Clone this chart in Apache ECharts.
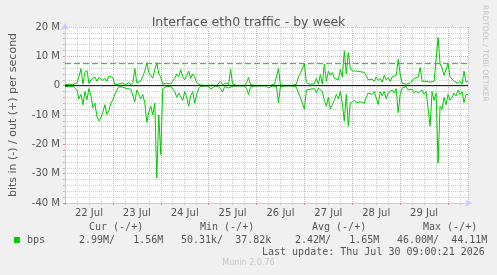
<!DOCTYPE html>
<html>
<head>
<meta charset="utf-8">
<title>Interface eth0 traffic - by week</title>
<script src="https://cdn.jsdelivr.net/npm/echarts@6/dist/echarts.min.js"></script>
<style>
  html, body { margin: 0; padding: 0; background: #f0f0f0; }
  #main { width: 497px; height: 275px; }
</style>
</head>
<body>
<div id="main"></div>
<script>
// hours since 22 Jul 00:00, one sample per hour (Mbit/s)
var outMbps = [
  0.3, 0.2, 0.5, 0.2, 0.3, 0.5, 1.0, 3.0, 5.8, 0.5, 4.5, 5.2, 0.8, 2.0, 2.5, 3.0, 1.5, 2.8, 3.0, 1.8,
  2.5, 1.5, 3.3, 3.8, 2.7, 0.3, 0.2, 0.5, 0.3, 1.0, 0.2, 0.5, 1.0, 0.3, 1.0, 5.8, 1.0, 0.5, 1.5, 2.0,
  5.0, 7.8, 4.5, 3.5, 2.5, 5.5, 7.8, 4.0, 3.0, 0.5, 0.3, 0.8, 0.2, 0.6, 0.3, 2.5, 4.0, 3.0, 5.5, 3.0,
  2.0, 3.5, 5.0, 2.5, 4.0, 3.0, 1.0, 0.5, 0.2, 0.1, 0.1, 0.1, 0.1, 0.3, 0.2, 0.1, 0.1, 0.1, 1.5, 0.3,
  0.2, 1.0, 0.3, 5.6, 0.5, 0.1, 0.1, 0.1, 0.1, 0.1, 0.1, 1.0, 2.8, 0.3, 0.1, 0.1, 0.1, 0.1, 0.1, 0.1,
  0.1, 0.1, 0.1, 0.1, 0.2, 0.5, 0.3, 5.8, 0.2, 0.1, 0.1, 0.1, 0.1, 0.1, 0.1, 0.1, 0.5, 3.0, 4.2, 4.5,
  7.5, 1.0, 0.8, 0.5, 0.3, 0.6, 2.5, 0.5, 3.8, 0.5, 7.3, 1.5, 5.0, 3.5, 4.5, 2.5, 2.7, 2.0, 5.6, 3.0,
  11.9, 4.0, 11.3, 6.0, 5.0, 5.3, 5.0, 5.2, 4.8, 5.0, 4.5, 3.5, 2.0, 1.8, 2.2, 1.5, 3.0, 1.8, 2.5, 1.2,
  3.5, 2.0, 2.8, 1.5, 3.0, 2.5, 3.5, 9.0, 4.0, 0.8, 0.3, 0.5, 1.0, 0.8, 0.5, 2.5, 2.0, 2.8, 6.2, 1.5,
  2.0, 1.5, 1.0, 1.2, 1.8, 1.5, 1.0, 16.4, 7.5, 6.0, 3.5, 4.0, 7.5, 3.0, 2.5, 1.5, 2.0, 0.8, 1.5, 0.5,
  5.0, 1.2, 1.6
];
var inMbps = [
  0.3, 0.5, 0.2, 0.4, 0.2, 0.5, 1.5, 4.5, 3.0, 6.5, 2.0, 4.8, 1.0, 3.5, 7.5, 6.0, 10.5, 12.0, 11.0, 9.0,
  6.5, 9.8, 8.5, 6.0, 4.8, 3.0, 1.5, 0.4, 0.2, 0.5, 0.3, 1.0, 0.5, 1.2, 0.8, 5.5, 1.5, 3.0, 4.5, 3.0,
  6.0, 12.5, 9.0, 7.0, 10.0, 6.0, 31.5, 10.0, 23.5, 1.0, 0.5, 0.3, 0.6, 0.2, 0.5, 2.0, 4.0, 2.5, 3.0, 5.0,
  2.0, 4.0, 7.0, 3.5, 2.0, 6.0, 3.0, 1.0, 0.3, 0.1, 0.1, 0.1, 0.2, 1.2, 1.6, 0.2, 0.1, 0.2, 1.0, 2.2,
  0.3, 0.5, 0.8, 0.4, 0.2, 0.1, 0.1, 0.1, 0.1, 0.1, 0.1, 1.0, 3.0, 0.5, 0.1, 0.1, 0.1, 0.1, 0.1, 0.1,
  0.1, 0.1, 0.8, 0.3, 0.1, 0.4, 0.2, 5.8, 0.3, 0.1, 0.1, 0.1, 0.1, 0.1, 0.1, 0.2, 0.5, 2.5, 4.0, 6.0,
  8.0, 1.5, 1.0, 1.2, 0.8, 1.0, 2.5, 0.8, 1.0, 2.0, 5.0, 7.0, 4.0, 8.0, 6.5, 5.0, 3.0, 4.5, 2.0, 6.0,
  12.1, 3.0, 13.8, 6.0, 5.5, 5.0, 5.8, 5.3, 5.5, 5.0, 6.0, 4.0, 2.5, 2.0, 3.0, 2.0, 2.5, 6.4, 2.0, 3.5,
  2.0, 4.5, 2.5, 3.0, 1.5, 2.5, 1.0, 9.2, 3.0, 0.8, 0.5, 0.3, 1.5, 1.8, 1.2, 2.5, 1.8, 2.5, 2.0, 1.5,
  3.0, 2.0, 1.8, 13.8, 2.0, 5.0, 2.5, 26.4, 7.0, 8.0, 4.0, 6.5, 3.0, 5.0, 4.0, 2.5, 3.5, 1.5, 3.0, 2.0,
  5.8, 3.0, 3.0
];
var dashedLevel = 7.5;
var dayLabels = ['22 Jul', '23 Jul', '24 Jul', '25 Jul', '26 Jul', '27 Jul', '28 Jul', '29 Jul'];
var dayNoons = [12, 36, 60, 84, 108, 132, 156, 180];
var yTicks = [-40, -30, -20, -10, 0, 10, 20];
var lastHour = 202;

var GREEN = '#00cc00';
var TXT = '#555555';
var MONO = 'DejaVu Sans Mono';

var chart = echarts.init(document.getElementById('main'));

var outData = outMbps.map(function (v, i) { return [i, v]; });
var inData = inMbps.map(function (v, i) { return [i, -v]; });

var option = {
  backgroundColor: '#f0f0f0',
  animation: false,
  title: {
    text: 'Interface eth0 traffic - by week',
    left: 'center',
    top: 11,
    textStyle: { fontFamily: 'DejaVu Sans', fontSize: 12.5, fontWeight: 'normal', color: TXT }
  },
  grid: {
    left: 64, right: 29, top: 27, bottom: 72,
    show: true, backgroundColor: '#ffffff', borderWidth: 0
  },
  xAxis: {
    type: 'value',
    min: 0,
    max: lastHour,
    interval: 24,
    axisLine: {
      onZero: false,
      lineStyle: { color: '#c8c8ff' },
      symbol: ['none', 'arrow'],
      symbolSize: [6, 7],
      symbolOffset: [0, 4]
    },
    axisTick: { show: true, length: 2, lineStyle: { color: '#f08080' } },
    minorTick: { show: true, splitNumber: 4, length: 2, lineStyle: { color: '#bbb' } },
    splitLine: { show: true, lineStyle: { color: '#f2a8a8', type: [1, 1] } },
    minorSplitLine: { show: true, lineStyle: { color: '#d0d0d0', type: [1, 1] } },
    axisLabel: {
      customValues: dayNoons,
      margin: 5,
      color: TXT,
      fontFamily: 'DejaVu Sans',
      fontSize: 10,
      formatter: function (v) { return dayLabels[dayNoons.indexOf(v)] || ''; }
    }
  },
  yAxis: {
    type: 'value',
    min: -40,
    max: 20,
    interval: 10,
    name: 'bits in (-) / out (+) per second',
    nameLocation: 'middle',
    nameGap: 46,
    nameTextStyle: { fontFamily: 'DejaVu Sans', fontSize: 11, color: TXT },
    axisLine: {
      show: true,
      lineStyle: { color: '#c8c8ff' },
      symbol: ['none', 'arrow'],
      symbolSize: [6, 7],
      symbolOffset: [0, 4]
    },
    axisTick: { show: true, length: 2, lineStyle: { color: '#f08080' } },
    minorTick: { show: true, splitNumber: 5, length: 2, lineStyle: { color: '#bbb' } },
    splitLine: { show: true, lineStyle: { color: '#f2a8a8', type: [1, 1] } },
    minorSplitLine: { show: true, lineStyle: { color: '#d0d0d0', type: [1, 1] } },
    axisLabel: {
      margin: 5,
      color: TXT,
      fontFamily: 'DejaVu Sans',
      fontSize: 10,
      formatter: function (v) { return v === 0 ? '0' : v + ' M'; }
    }
  },
  series: [
    {
      name: 'bps out',
      type: 'line',
      data: outData,
      symbol: 'none',
      lineStyle: { color: GREEN, width: 1 },
      z: 3
    },
    {
      name: 'bps in',
      type: 'line',
      data: inData,
      symbol: 'none',
      lineStyle: { color: GREEN, width: 1 },
      z: 3
    },
    {
      name: 'max',
      type: 'line',
      data: [[0, dashedLevel], [lastHour, dashedLevel]],
      symbol: 'none',
      lineStyle: { color: GREEN, width: 1, type: [6, 3] },
      z: 2
    },
    {
      name: 'zero',
      type: 'line',
      data: [[0, 0], [lastHour, 0]],
      symbol: 'none',
      lineStyle: { color: '#000000', width: 1 },
      z: 4
    }
  ],
  graphic: [
    { type: 'text', left: 89, top: 222, style: { text: 'Cur (-/+)', font: '10px ' + MONO, fill: TXT } },
    { type: 'text', left: 200, top: 222, style: { text: 'Min (-/+)', font: '10px ' + MONO, fill: TXT } },
    { type: 'text', left: 312, top: 222, style: { text: 'Avg (-/+)', font: '10px ' + MONO, fill: TXT } },
    { type: 'text', left: 423, top: 222, style: { text: 'Max (-/+)', font: '10px ' + MONO, fill: TXT } },
    { type: 'rect', left: 14, top: 237, shape: { width: 6, height: 6 }, style: { fill: GREEN } },
    { type: 'text', left: 27, top: 235, style: { text: 'bps', font: '10px ' + MONO, fill: TXT } },
    { type: 'text', left: 79, top: 235, style: { text: '2.99M/   1.56M', font: '10px ' + MONO, fill: TXT } },
    { type: 'text', left: 181, top: 235, style: { text: '50.31k/  37.82k', font: '10px ' + MONO, fill: TXT } },
    { type: 'text', left: 295, top: 235, style: { text: '2.42M/   1.65M', font: '10px ' + MONO, fill: TXT } },
    { type: 'text', left: 397, top: 235, style: { text: '46.00M/  44.11M', font: '10px ' + MONO, fill: TXT } },
    { type: 'text', left: 262, top: 247, style: { text: 'Last update: Thu Jul 30 09:00:21 2026', font: '10px ' + MONO, fill: TXT } },
    { type: 'text', left: 'center', top: 259, style: { text: 'Munin 2.0.76', font: '8px DejaVu Sans', fill: '#c8c8c8' } },
    {
      type: 'text', x: 489, y: 5, rotation: -Math.PI / 2,
      style: { text: 'RRDTOOL / TOBI OETIKER', font: '7.5px DejaVu Sans', fill: '#c4c4c4' }
    }
  ]
};

chart.setOption(option);
</script>
</body>
</html>
